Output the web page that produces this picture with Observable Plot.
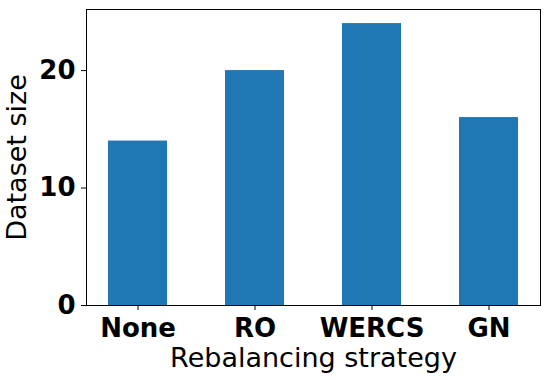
<!DOCTYPE html>
<html>
<head>
<meta charset="utf-8">
<script src="https://cdn.jsdelivr.net/npm/d3@7"></script>
<script src="https://cdn.jsdelivr.net/npm/@observablehq/plot@0.6"></script>
<style>
  html, body { margin: 0; padding: 0; background: #fff; }
  svg { display: block; }
</style>
</head>
<body>
<div id="chart"></div>
<script>
const strategies = ["None", "RO", "WERCS", "GN"];
const sizes = [14, 20, 24, 16];
const yTicks = [0, 10, 20];
const xLabel = "Rebalancing strategy";
const yLabel = "Dataset size";

const data = strategies.map((s, i) => ({strategy: s, size: sizes[i]}));

const chart = Plot.plot({
  width: 550,
  height: 380,
  marginLeft: 86,
  marginRight: 10,
  marginTop: 9,
  marginBottom: 75,
  style: {fontFamily: "DejaVu Sans", color: "#000", background: "#fff"},
  x: {domain: strategies, paddingInner: 0.5, paddingOuter: 0.174, axis: null},
  y: {domain: [0, 25.2], axis: null},
  marks: [
    Plot.barY(data, {x: "strategy", y: "size", fill: "#1f77b4"}),
    Plot.frame({stroke: "#000", strokeWidth: 1}),
    Plot.axisX({tickSize: 5, tickPadding: 8, fontSize: 26, fontWeight: "bold", label: null, stroke: "#000"}),
    Plot.axisY(yTicks, {tickSize: 5, tickPadding: 6, fontSize: 26, fontWeight: "bold", label: null, stroke: "#000"}),
    Plot.text([xLabel], {frameAnchor: "bottom", dy: 42, lineAnchor: "top", fontSize: 27, fill: "#000"}),
    Plot.text([yLabel], {frameAnchor: "left", dx: -69, rotate: -90, textAnchor: "middle", lineAnchor: "middle", fontSize: 27, fill: "#000"})
  ]
});
document.getElementById("chart").appendChild(chart);
</script>
</body>
</html>
